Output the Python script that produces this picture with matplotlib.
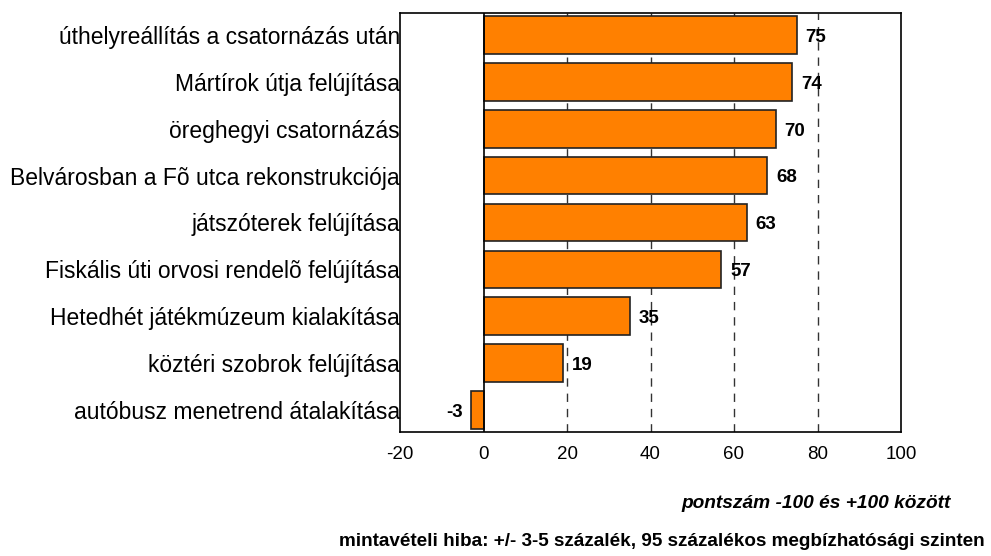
import matplotlib
matplotlib.use("Agg")
import matplotlib.pyplot as plt

categories = [
    "úthelyreállítás a csatornázás után",
    "Mártírok útja felújítása",
    "öreghegyi csatornázás",
    "Belvárosban a Fõ utca rekonstrukciója",
    "játszóterek felújítása",
    "Fiskális úti orvosi rendelõ felújítása",
    "Hetedhét játékmúzeum kialakítása",
    "köztéri szobrok felújítása",
    "autóbusz menetrend átalakítása",
]
values = [75, 74, 70, 68, 63, 57, 35, 19, -3]
xticks = [-20, 0, 20, 40, 60, 80, 100]
grid_x = [20, 40, 60, 80]

plt.rcParams['font.family'] = ['Liberation Sans', 'DejaVu Sans']

fig = plt.figure(figsize=(9.91, 5.56), dpi=100)
ax = fig.add_axes([400/991, 1-432/556, 501/991, 419/556])

ypos = list(range(len(categories)))
for gx in grid_x:
    ax.axvline(gx, color='#333333', lw=1, ls=(0, (6, 5)), zorder=0)
ax.axvline(0, color='black', lw=1.2, zorder=3)
ax.barh(ypos, values, height=0.8, color='#FF8000', edgecolor='#222222', lw=1.2, zorder=2)

for y, v in zip(ypos, values):
    if v >= 0:
        ax.text(v + 2.1, y + 0.05, str(v), va='center', ha='left', fontsize=13.5, fontweight='bold')
    else:
        ax.text(v - 2.0, y + 0.05, str(v), va='center', ha='right', fontsize=13.5, fontweight='bold')

ax.set_xlim(-20, 100)
ax.set_ylim(len(categories) - 0.53, -0.47)
ax.set_xticks(xticks)
ax.set_xticklabels([str(t) for t in xticks], fontsize=13.5)
ax.set_yticks(ypos)
ax.set_yticklabels(categories, fontsize=16.5)
ax.tick_params(axis='y', length=0, pad=0)
ax.tick_params(axis='x', length=0, pad=10)
for s in ax.spines.values():
    s.set_color('black')
    s.set_linewidth(1.2)

fig.text(951/991, 1-504/556, "pontszám -100 és +100 között", ha='right', va='center',
         fontsize=13.8, fontweight='bold', fontstyle='italic')
fig.text(985/991, 1-542/556, "mintavételi hiba: +/- 3-5 százalék, 95 százalékos megbízhatósági szinten",
         ha='right', va='center', fontsize=13.6, fontweight='bold')

fig.savefig("out.png", dpi=100)
